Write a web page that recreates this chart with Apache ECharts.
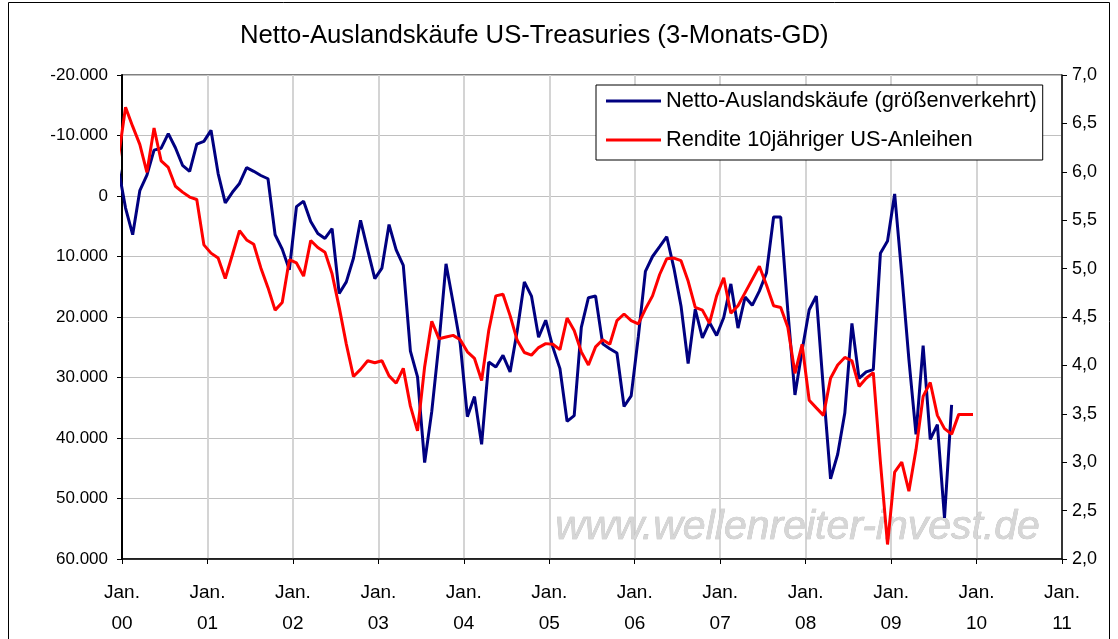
<!DOCTYPE html>
<html>
<head>
<meta charset="utf-8">
<script src="https://cdn.jsdelivr.net/npm/echarts@6/dist/echarts.min.js"></script>
<style>
html,body{margin:0;padding:0;background:#fff;}
#chart{width:1118px;height:639px;}
</style>
</head>
<body>
<div id="chart"></div>
<script>
// Monthly values, first entry = Dec 1999 (month index -1), then Jan 2000 onwards
const firstMonth = -1;
const yearTicks = ['00','01','02','03','04','05','06','07','08','09','10','11'];

// Netto-Auslandskäufe (3-Monats-GD), plotted on an inverted axis
const netPurchases = [
  -4500, 2000, 6400, -880, -3450, -7580, -7900, -10310, -7970, -5080, -4070, -8590, -9030,
  -10850, -3700, 1150, -610, -2070, -4700, -4080, -3390, -2850, 6410, 8780, 12190,
  1750, 850, 4230, 6190, 7010, 5380, 16110, 14200, 10280, 4020, 8920, 13660,
  11910, 4720, 8920, 11470, 25640, 29890, 44050, 35600, 24440, 11210, 17630, 24440,
  36480, 33160, 41050, 27440, 28250, 26340, 29070, 22260, 14200, 16540, 23350, 20530,
  24980, 28530, 37240, 36300, 21720, 16810, 16540, 24440, 25260, 25960, 34790, 33040,
  23300, 12450, 10000, 8370, 6730, 11910, 18170, 27710, 18720, 23460, 20900, 23070,
  20080, 14530, 21830, 16700, 18070, 15720, 12730, 3470, 3470, 19000, 32880, 25520,
  18800, 16540, 32000, 46770, 42690, 35880, 21060, 30160, 29070, 28690, 9460, 7450,
  -340, 13000, 27000, 39400, 24710, 40230, 37780, 53200, 34510
];

// Rendite 10jähriger US-Anleihen (%)
const yield10y = [
  6.15, 6.667, 6.469, 6.283, 5.994, 6.453, 6.112, 6.045, 5.851, 5.790, 5.739, 5.714, 5.245,
  5.160, 5.109, 4.898, 5.143, 5.392, 5.296, 5.252, 5.007, 4.803, 4.571, 4.650, 5.092,
  5.058, 4.922, 5.290, 5.218, 5.170, 4.946, 4.60, 4.22, 3.885, 3.959, 4.048, 4.027,
  4.048, 3.892, 3.816, 3.969, 3.579, 3.323, 3.987, 4.456, 4.276, 4.293, 4.310, 4.265,
  4.14, 4.072, 3.844, 4.361, 4.718, 4.735, 4.514, 4.259, 4.133, 4.106, 4.184, 4.225,
  4.218, 4.163, 4.490, 4.361, 4.140, 4.004, 4.191, 4.265, 4.218, 4.463, 4.531, 4.463,
  4.429, 4.582, 4.718, 4.939, 5.102, 5.109, 5.082, 4.871, 4.599, 4.571, 4.436, 4.718,
  4.905, 4.538, 4.616, 4.752, 4.888, 5.024, 4.830, 4.616, 4.599, 4.395, 3.918, 4.218,
  3.640, 3.561, 3.484, 3.867, 4.004, 4.082, 4.048, 3.783, 3.867, 3.926, 3.00, 2.150,
  2.898, 3.000, 2.701, 3.130, 3.680, 3.823, 3.484, 3.347, 3.290, 3.494, 3.494, 3.494
];

const seriesNames = ['Netto-Auslandskäufe (größenverkehrt)', 'Rendite 10jähriger US-Anleihen'];
const leftTicks = {min: -20000, max: 60000, step: 10000};
const rightTicks = {min: 2, max: 7, step: 0.5};

// monthly points sit in the middle of each month slot (Excel date axis, between tick marks)
function toPoints(arr) {
  return arr.map((v, k) => [firstMonth + k + 0.5, v]);
}

const FONT = "'Liberation Sans', Arial, sans-serif";
const chart = echarts.init(document.getElementById('chart'), null, {renderer: 'canvas'});

function fmtThousands(v) {
  const s = Math.abs(v).toString().replace(/\B(?=(\d{3})+(?!\d))/g, '.');
  return (v < 0 ? '-' : '') + s;
}

chart.setOption({
  animation: false,
  backgroundColor: '#ffffff',
  title: {
    text: 'Netto-Auslandskäufe US-Treasuries (3-Monats-GD)',
    left: 235,
    top: 18,
    textStyle: {fontFamily: FONT, fontSize: 25.7, fontWeight: 'normal', color: '#000'}
  },
  legend: {
    data: seriesNames,
    orient: 'vertical',
    left: 596,
    top: 85,
    padding: [5, 6, 9, 10],
    itemGap: 17,
    itemWidth: 55,
    itemHeight: 3,
    icon: 'rect',
    backgroundColor: '#fff',
    borderColor: '#000',
    borderWidth: 1,
    borderRadius: 0,
    textStyle: {fontFamily: FONT, fontSize: 21.8, color: '#000'}
  },
  grid: {
    left: 122, right: 56, top: 75, bottom: 75,
    show: true, borderColor: '#000', borderWidth: 1, backgroundColor: 'transparent'
  },
  xAxis: {
    type: 'value',
    min: 0,
    max: yearTicks.length * 12 - 12,
    interval: 12,
    axisLine: {show: true, onZero: false, lineStyle: {color: '#000', width: 1.5}},
    axisTick: {show: true, length: 5, lineStyle: {color: '#000', width: 1}},
    splitLine: {show: true, lineStyle: {color: '#d4d4d4', width: 2}},
    axisLabel: {
      margin: 18,
      lineHeight: 31,
      fontFamily: FONT, fontSize: 19, color: '#000',
      formatter: v => 'Jan.\n' + yearTicks[Math.round(v / 12)]
    }
  },
  yAxis: [
    {
      type: 'value',
      inverse: true,
      min: leftTicks.min, max: leftTicks.max, interval: leftTicks.step,
      position: 'left',
      axisLine: {show: true, onZero: false, lineStyle: {color: '#000', width: 2}},
      axisTick: {show: true, length: 5, lineStyle: {color: '#000', width: 1}},
      splitLine: {show: true, lineStyle: {color: '#c0c0c0', width: 1}},
      axisLabel: {margin: 14, fontFamily: FONT, fontSize: 17, color: '#000', formatter: fmtThousands}
    },
    {
      type: 'value',
      min: rightTicks.min, max: rightTicks.max, interval: rightTicks.step,
      position: 'right',
      axisLine: {show: true, onZero: false, lineStyle: {color: '#000', width: 1.5}},
      axisTick: {show: true, length: 5, lineStyle: {color: '#000', width: 1}},
      splitLine: {show: false},
      axisLabel: {margin: 10, fontFamily: FONT, fontSize: 18, color: '#000',
        formatter: v => v.toFixed(1).replace('.', ',')}
    }
  ],
  graphic: [
    {
      type: 'rect', z: -1, silent: true,
      shape: {x: 8.5, y: 2.5, width: 1101, height: 650},
      style: {fill: 'none', stroke: '#000', lineWidth: 1}
    },
    {
      type: 'text', z: 1, silent: true,
      left: 555, top: 507,
      style: {
        text: 'www.wellenreiter-invest.de',
        font: "italic 41px 'Liberation Sans', Arial, sans-serif",
        fill: '#d6d6d6',
        stroke: '#b8b8b8',
        lineWidth: 0.6
      }
    }
  ],
  series: [
    {
      name: seriesNames[0],
      type: 'line',
      yAxisIndex: 0,
      data: toPoints(netPurchases),
      showSymbol: false,
      clip: true,
      z: 3,
      lineStyle: {color: '#000080', width: 3},
      itemStyle: {color: '#000080'}
    },
    {
      name: seriesNames[1],
      type: 'line',
      yAxisIndex: 1,
      data: toPoints(yield10y),
      showSymbol: false,
      clip: true,
      z: 4,
      lineStyle: {color: '#ff0000', width: 3},
      itemStyle: {color: '#ff0000'}
    }
  ]
});
</script>
</body>
</html>
